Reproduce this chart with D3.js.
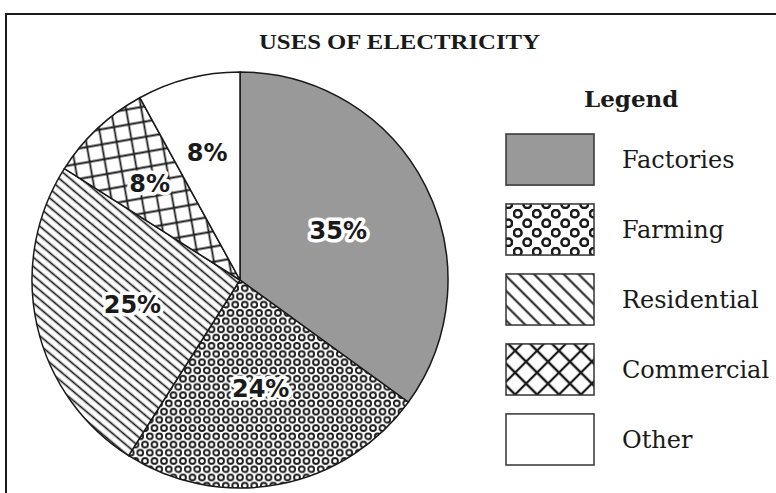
<!DOCTYPE html>
<html>
<head>
<meta charset="utf-8">
<script src="https://cdn.jsdelivr.net/npm/d3@7"></script>
<style>
  body { margin: 0; background: #fff; }
  svg { display: block; }
</style>
</head>
<body>
<div id="viz"></div>
<script>
const width = 776, height = 493;

// data
const categories = ["Factories", "Farming", "Residential", "Commercial", "Other"];
const shares = [35, 24, 25, 8, 8];
const chartTitle = "USES OF ELECTRICITY";
const legendTitle = "Legend";

const svg = d3.select("#viz").append("svg").attr("width", width).attr("height", height);
const defs = svg.append("defs");
const ink = "#1a1a1a";

// hatch patterns
function pattern(id, w, h, transform) {
  const p = defs.append("pattern").attr("id", id)
    .attr("patternUnits", "userSpaceOnUse")
    .attr("width", w).attr("height", h);
  if (transform) p.attr("patternTransform", transform);
  p.append("rect").attr("width", w).attr("height", h).attr("fill", "#fff");
  return p;
}

// pie: small rings in a hex grid
{
  const s = 9.5, h = s * Math.sqrt(3);
  const p = pattern("rings", s, h);
  [[0, 0], [s, 0], [0, h], [s, h], [s / 2, h / 2]].forEach(([cx, cy]) =>
    p.append("circle").attr("cx", cx).attr("cy", cy).attr("r", 2.9)
      .attr("fill", "none").attr("stroke", ink).attr("stroke-width", 1.9));
}
// pie: diagonal lines
pattern("lines", 7, 7, "rotate(40)")
  .append("line").attr("x1", 0).attr("x2", 7).attr("y1", 3.5).attr("y2", 3.5)
  .attr("stroke", ink).attr("stroke-width", 1.7);
// pie: square grid
pattern("grid", 15, 15, "rotate(-10)")
  .append("path").attr("d", "M0,7.5H15M7.5,0V15")
  .attr("stroke", ink).attr("stroke-width", 1.8).attr("fill", "none");

// legend versions
{
  const p = pattern("ringsL", 19, 19);
  [[4.75, 4.75], [14.25, 14.25]].forEach(([cx, cy]) =>
    p.append("circle").attr("cx", cx).attr("cy", cy).attr("r", 3.8)
      .attr("fill", "none").attr("stroke", ink).attr("stroke-width", 2.6));
}
pattern("linesL", 10.5, 10.5, "rotate(45)")
  .append("line").attr("x1", 0).attr("x2", 10.5).attr("y1", 5.25).attr("y2", 5.25)
  .attr("stroke", ink).attr("stroke-width", 2);
pattern("gridL", 15.5, 15.5, "rotate(45)")
  .append("path").attr("d", "M0,7.75H15.5M7.75,0V15.5")
  .attr("stroke", ink).attr("stroke-width", 2.2).attr("fill", "none");

const pieFill = ["#999999", "url(#rings)", "url(#lines)", "url(#grid)", "#ffffff"];
const legendFill = ["#999999", "url(#ringsL)", "url(#linesL)", "url(#gridL)", "#ffffff"];

// frame
svg.append("path").attr("d", `M6,${height}V14H${width}`)
  .attr("fill", "none").attr("stroke", ink).attr("stroke-width", 2);

svg.append("text").attr("x", 259).attr("y", 49)
  .attr("textLength", 281).attr("lengthAdjust", "spacingAndGlyphs")
  .attr("font-family", "Liberation Serif").attr("font-weight", "bold")
  .attr("font-size", 22).attr("fill", ink).text(chartTitle);

// pie
const cx = 240, cy = 280, R = 208;
const table = categories.map((c, i) => ({ name: c, value: shares[i], i }));
const arcs = d3.pie().sort(null).value(d => d.value)(table);
const arc = d3.arc().innerRadius(0).outerRadius(R);
const g = svg.append("g").attr("transform", `translate(${cx},${cy})`);

g.selectAll("path").data(arcs).join("path")
  .attr("d", arc)
  .attr("fill", d => pieFill[d.data.i])
  .attr("stroke", ink).attr("stroke-width", 1.5);

const labelArc = d => d3.arc().innerRadius(d.value >= 20 ? 0.53 * R : 0.635 * R)
  .outerRadius(d.value >= 20 ? 0.53 * R : 0.635 * R).centroid(d);

g.selectAll("text.pct").data(arcs).join("text")
  .attr("class", "pct")
  .attr("transform", d => `translate(${labelArc(d)})`)
  .attr("text-anchor", "middle").attr("dy", "0.36em")
  .attr("font-family", "DejaVu Sans").attr("font-weight", "bold").attr("font-size", 24)
  .attr("fill", ink)
  .attr("stroke", "#fff").attr("stroke-width", 7).attr("stroke-linejoin", "round")
  .attr("paint-order", "stroke")
  .text(d => d.value + "%");

// legend
const ly = d3.scaleBand().domain(categories).range([134, 465]).paddingInner(0.27).paddingOuter(0);

svg.append("text").attr("x", 584).attr("y", 107)
  .attr("font-family", "DejaVu Serif").attr("font-weight", "bold").attr("font-size", 23)
  .attr("fill", ink).text(legendTitle);

const items = svg.selectAll("g.item").data(table).join("g").attr("class", "item");
items.append("rect")
  .attr("x", 506).attr("y", d => ly(d.name))
  .attr("width", 88).attr("height", ly.bandwidth())
  .attr("fill", d => legendFill[d.i])
  .attr("stroke", "#333").attr("stroke-width", 1.5);
items.append("text")
  .attr("x", 622).attr("y", d => ly(d.name) + ly.bandwidth() / 2 + 8.5)
  .attr("font-family", "DejaVu Serif").attr("font-size", 24)
  .attr("fill", ink).text(d => d.name);
</script>
</body>
</html>
